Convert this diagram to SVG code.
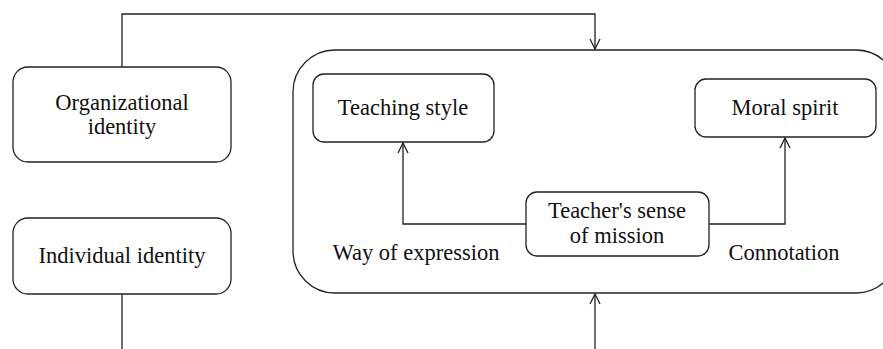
<svg xmlns="http://www.w3.org/2000/svg" width="883" height="349" viewBox="0 0 883 349">
<style>
.box{fill:#fff;stroke:#222;stroke-width:1.3}
.ln{fill:none;stroke:#222;stroke-width:1.3}
text{font-family:"Liberation Serif","Times New Roman",serif;font-size:22.5px;fill:#111;text-anchor:middle}
</style>
<defs>
<marker id="arr" viewBox="0 0 12 12" refX="11" refY="6" markerWidth="12" markerHeight="12" markerUnits="userSpaceOnUse" orient="auto">
<path d="M1,1 L11,6 L1,11" fill="none" stroke="#222" stroke-width="1.3"/>
</marker>
</defs>
<g id="container">
<rect class="box" x="293" y="50" width="605" height="243" rx="42" ry="42"/>
</g>
<g id="connectors">
<path class="ln" d="M122,67 V14 H595 V49" marker-end="url(#arr)"/>
<path class="ln" d="M122,294 V349"/>
<path class="ln" d="M595,349 V294" marker-end="url(#arr)"/>
<path class="ln" d="M526,224 H403 V143" marker-end="url(#arr)"/>
<path class="ln" d="M709,224 H785 V138" marker-end="url(#arr)"/>
</g>
<g id="org">
<rect class="box" x="13" y="67" width="218" height="95" rx="15"/>
<text x="122" y="110">Organizational</text>
<text x="122" y="134">identity</text>
</g>
<g id="ind">
<rect class="box" x="13" y="218" width="218" height="76" rx="15"/>
<text x="122" y="263">Individual identity</text>
</g>
<g id="teaching">
<rect class="box" x="313" y="74" width="181" height="68" rx="11"/>
<text x="403" y="115">Teaching style</text>
</g>
<g id="moral">
<rect class="box" x="695" y="79" width="181" height="58" rx="11"/>
<text x="785" y="115">Moral spirit</text>
</g>
<g id="mission">
<rect class="box" x="526" y="192" width="183" height="64" rx="11"/>
<text x="617" y="218">Teacher's sense</text>
<text x="617" y="243">of mission</text>
</g>
<g id="labels">
<text x="416" y="260">Way of expression</text>
<text x="784" y="260">Connotation</text>
</g>
</svg>
